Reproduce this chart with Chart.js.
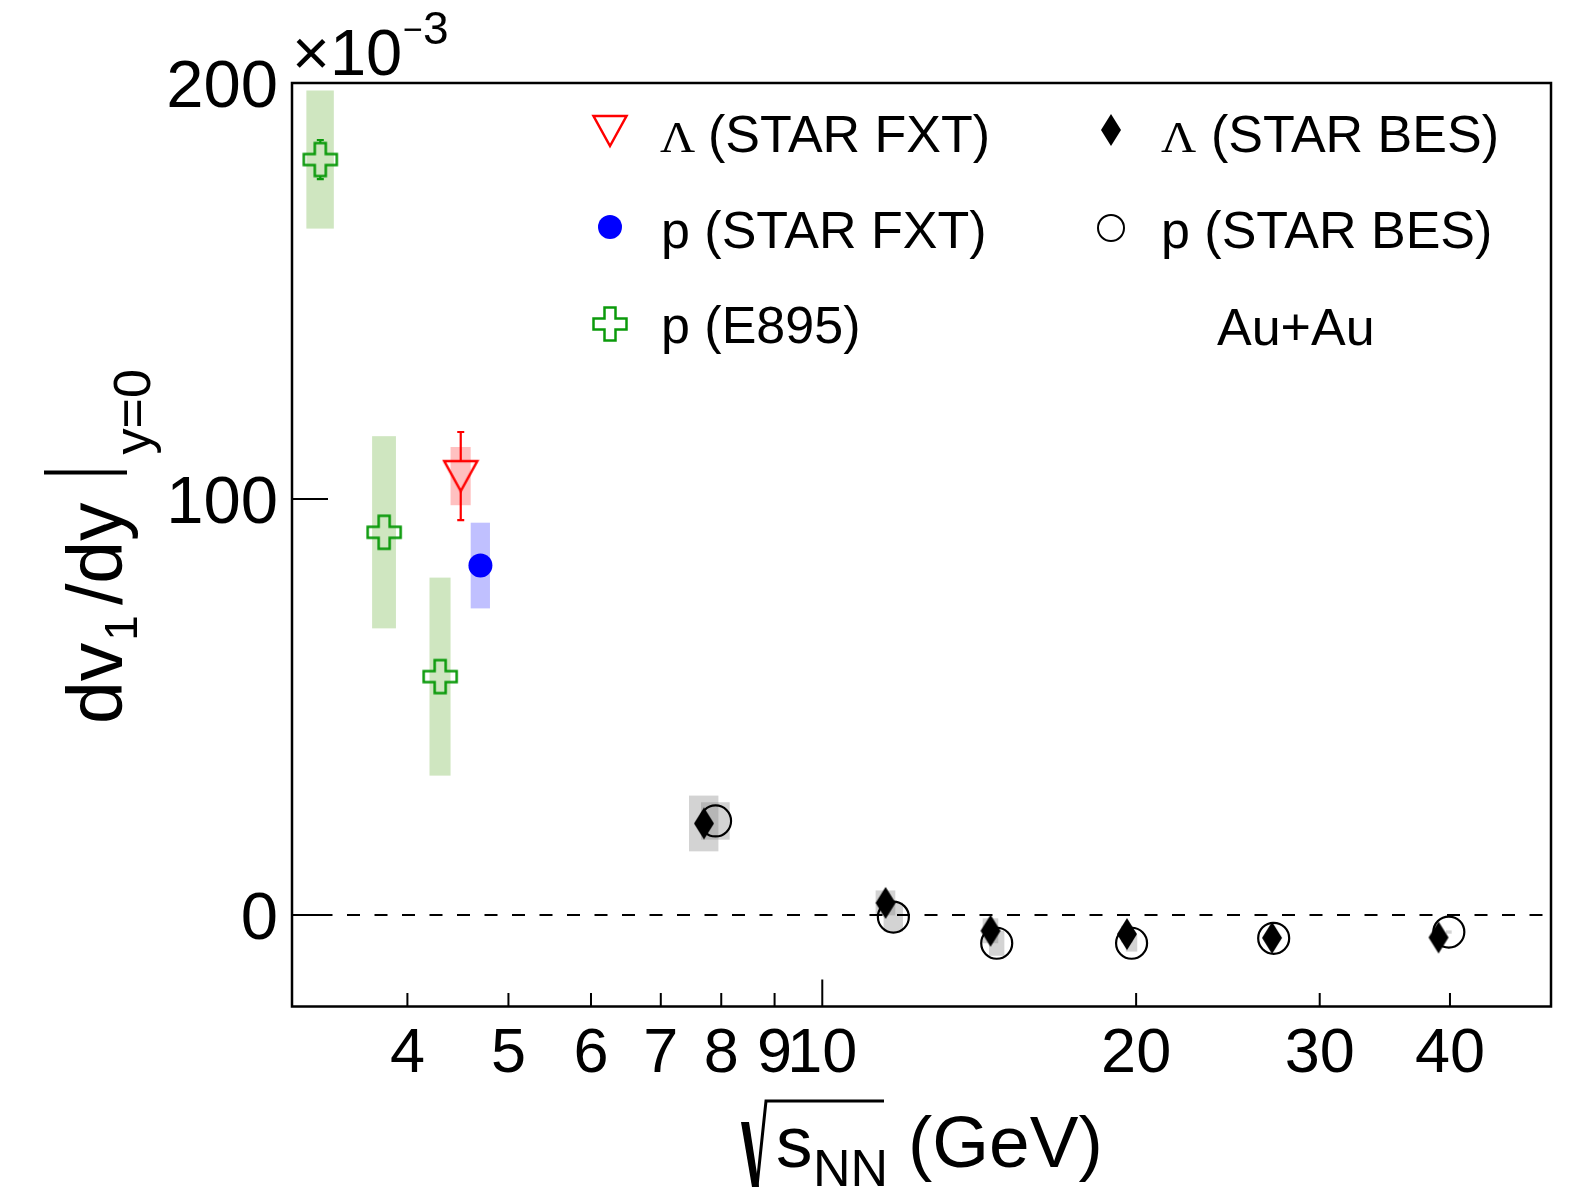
<!DOCTYPE html>
<html>
<head>
<meta charset="utf-8">
<script src="https://cdn.jsdelivr.net/npm/chart.js@4/dist/chart.umd.min.js"></script>
<style>
body { margin: 0; background: #fff; }
canvas { display: block; }
</style>
</head>
<body>
<canvas id="dv1-chart" width="1584" height="1194"></canvas>
<script>
// beam energy (GeV) and dv1/dy at y=0, in units of 1e-3
const e895Energy = [3.3, 3.8, 4.3];
const e895Slope = [181.6, 92.0, 57.3];
const e895Stat = [4.7, 2.0, 2.0];
const e895Sys = [16.6, 23.1, 23.8];

const fxtLambdaEnergy = [4.5];
const fxtLambdaSlope = [105.5];
const fxtLambdaStat = [10.6];
const fxtLambdaSys = [7.0];

const fxtProtonEnergy = [4.7];
const fxtProtonSlope = [84.0];
const fxtProtonStat = [1.5];
const fxtProtonSys = [10.3];

const besLambdaEnergy = [7.7, 11.5, 14.5, 19.6, 27, 39];
const besLambdaSlope = [22.0, 2.9, -3.8, -4.6, -5.5, -5.4];
const besLambdaSys = [6.7, 3.0, 3.0, 2.0, 0.6, 0.6];

const besProtonEnergy = [7.9, 11.7, 14.7, 19.8, 27.1, 39.9];
const besProtonSlope = [22.6, -0.5, -6.8, -6.8, -5.6, -4.1];
const besProtonSys = [4.5, 3.5, 3.0, 2.0, 0.5, 0.4];

const xTicks = [4, 5, 6, 7, 8, 9, 10, 20, 30, 40];
const xMajorTicks = [10];
const yTicks = [0, 100, 200];

// half width of the systematic boxes, in GeV
const boxHalfNarrow = 0.1;
const boxHalfWide = 0.25;

const green = "#0b9a0b";
const sans = "'Liberation Sans', Arial, Helvetica, sans-serif";
const serif = "'Liberation Serif', 'Times New Roman', serif";

function points(xs, ys)
{
	return xs.map(function (x, i) { return {x: x, y: ys[i]}; });
}

function markerCanvas(w, h, draw)
{
	let c = document.createElement("canvas");
	c.width = w;
	c.height = h;
	draw(c.getContext("2d"), w / 2, h / 2);
	return c;
}

const openCross = markerCanvas(38, 38, function (ctx, cx, cy)
{
	let a = 16.5, t = 5.5;
	ctx.strokeStyle = green;
	ctx.lineWidth = 2.5;
	ctx.beginPath();
	ctx.moveTo(cx - t, cy - a); ctx.lineTo(cx + t, cy - a); ctx.lineTo(cx + t, cy - t);
	ctx.lineTo(cx + a, cy - t); ctx.lineTo(cx + a, cy + t); ctx.lineTo(cx + t, cy + t);
	ctx.lineTo(cx + t, cy + a); ctx.lineTo(cx - t, cy + a); ctx.lineTo(cx - t, cy + t);
	ctx.lineTo(cx - a, cy + t); ctx.lineTo(cx - a, cy - t); ctx.lineTo(cx - t, cy - t);
	ctx.closePath();
	ctx.stroke();
});

const openTriangleDown = markerCanvas(38, 36, function (ctx, cx, cy)
{
	ctx.strokeStyle = "#ff0000";
	ctx.lineWidth = 2.5;
	ctx.beginPath();
	ctx.moveTo(cx - 16.5, cy - 15);
	ctx.lineTo(cx + 16.5, cy - 15);
	ctx.lineTo(cx, cy + 15);
	ctx.closePath();
	ctx.stroke();
});

const fullDiamond = markerCanvas(24, 36, function (ctx, cx, cy)
{
	ctx.fillStyle = "#000";
	ctx.beginPath();
	ctx.moveTo(cx, cy - 16);
	ctx.lineTo(cx + 10, cy);
	ctx.lineTo(cx, cy + 16);
	ctx.lineTo(cx - 10, cy);
	ctx.closePath();
	ctx.fill();
});

function drawBoxes(ctx, xs, ys, energy, slope, sys, half, color)
{
	ctx.fillStyle = color;
	energy.forEach(function (e, i)
	{
		let x0 = xs.getPixelForValue(e - half), x1 = xs.getPixelForValue(e + half);
		let y0 = ys.getPixelForValue(slope[i] + sys[i]), y1 = ys.getPixelForValue(slope[i] - sys[i]);
		ctx.fillRect(x0, y0, x1 - x0, y1 - y0);
	});
}

function drawErrors(ctx, xs, ys, energy, slope, stat, halfMarker, color)
{
	ctx.strokeStyle = color;
	ctx.lineWidth = 2.2;
	energy.forEach(function (e, i)
	{
		let px = xs.getPixelForValue(e), py = ys.getPixelForValue(slope[i]);
		let top = ys.getPixelForValue(slope[i] + stat[i]), bot = ys.getPixelForValue(slope[i] - stat[i]);
		if (py - top <= halfMarker) return;
		ctx.beginPath();
		ctx.moveTo(px, top); ctx.lineTo(px, py - halfMarker);
		ctx.moveTo(px, py + halfMarker); ctx.lineTo(px, bot);
		ctx.moveTo(px - 3.5, top); ctx.lineTo(px + 3.5, top);
		ctx.moveTo(px - 3.5, bot); ctx.lineTo(px + 3.5, bot);
		ctx.stroke();
	});
}

function lambdaLabel(ctx, x, y, rest, restX)
{
	ctx.save();
	ctx.font = "45px " + serif;
	ctx.translate(x, y);
	ctx.scale(1.08, 1);
	ctx.fillText("\u039B", 0, 0);
	ctx.restore();
	ctx.font = "52px " + sans;
	ctx.fillText(rest, restX, y);
}

const decorations = {
	id: "decorations",
	beforeDatasetsDraw(chart)
	{
		let ctx = chart.ctx, xs = chart.scales.x, ys = chart.scales.y, area = chart.chartArea;
		ctx.save();
		drawBoxes(ctx, xs, ys, e895Energy, e895Slope, e895Sys, boxHalfNarrow, "#cfe6c0");
		drawBoxes(ctx, xs, ys, fxtLambdaEnergy, fxtLambdaSlope, fxtLambdaSys, boxHalfNarrow, "#ffc0c0");
		drawBoxes(ctx, xs, ys, fxtProtonEnergy, fxtProtonSlope, fxtProtonSys, boxHalfNarrow, "#c0c0ff");
		drawBoxes(ctx, xs, ys, besLambdaEnergy, besLambdaSlope, besLambdaSys, boxHalfWide, "rgba(128,128,128,0.35)");
		drawBoxes(ctx, xs, ys, besProtonEnergy, besProtonSlope, besProtonSys, boxHalfWide, "rgba(128,128,128,0.35)");

		// zero line
		let y0 = ys.getPixelForValue(0);
		ctx.strokeStyle = "#000";
		ctx.lineWidth = 2;
		ctx.setLineDash([13, 14.5]);
		ctx.beginPath();
		ctx.moveTo(area.left, y0);
		ctx.lineTo(area.right, y0);
		ctx.stroke();
		ctx.setLineDash([]);

		drawErrors(ctx, xs, ys, e895Energy, e895Slope, e895Stat, 16.5, green);
		drawErrors(ctx, xs, ys, fxtLambdaEnergy, fxtLambdaSlope, fxtLambdaStat, 15, "#ff0000");
		drawErrors(ctx, xs, ys, fxtProtonEnergy, fxtProtonSlope, fxtProtonStat, 12, "#0000ff");
		ctx.restore();
	},
	afterDraw(chart)
	{
		let ctx = chart.ctx, xs = chart.scales.x, ys = chart.scales.y, area = chart.chartArea;
		ctx.save();
		ctx.strokeStyle = "#000";
		ctx.fillStyle = "#000";

		// frame and ticks
		ctx.lineWidth = 2.5;
		ctx.strokeRect(area.left, area.top, area.right - area.left, area.bottom - area.top);
		ctx.lineWidth = 2;
		ctx.beginPath();
		yTicks.forEach(function (v)
		{
			let py = ys.getPixelForValue(v);
			ctx.moveTo(area.left, py);
			ctx.lineTo(area.left + 36, py);
		});
		xTicks.forEach(function (v)
		{
			let px = xs.getPixelForValue(v);
			let len = xMajorTicks.includes(v) ? 27 : 13.5;
			ctx.moveTo(px, area.bottom);
			ctx.lineTo(px, area.bottom - len);
		});
		ctx.stroke();

		// tick labels
		ctx.font = "67px " + sans;
		ctx.textAlign = "right";
		yTicks.forEach(function (v)
		{
			ctx.fillText(String(v), area.left - 14, ys.getPixelForValue(v) + 24);
		});
		ctx.font = "63px " + sans;
		ctx.textAlign = "center";
		xTicks.forEach(function (v)
		{
			ctx.fillText(String(v), xs.getPixelForValue(v), area.bottom + 65);
		});

		// exponent
		ctx.textAlign = "left";
		ctx.font = "65px " + sans;
		ctx.fillText("\u00D710", area.left, 75);
		ctx.font = "34px " + sans;
		ctx.fillText("\u2212", 403, 41);
		ctx.font = "46px " + sans;
		ctx.fillText("3", 423, 44);

		// x title
		ctx.font = "73px " + sans;
		ctx.fillText("s", 776, 1167);
		ctx.font = "52px " + sans;
		ctx.fillText("NN", 813, 1186);
		ctx.font = "73px " + sans;
		ctx.fillText("(GeV)", 908, 1167);
		// radical sign: heavy left arm, thin right arm, overline
		ctx.beginPath();
		ctx.moveTo(741, 1122);
		ctx.lineTo(749, 1122);
		ctx.lineTo(759, 1187);
		ctx.lineTo(752, 1187);
		ctx.closePath();
		ctx.fill();
		ctx.lineWidth = 3;
		ctx.beginPath();
		ctx.moveTo(757, 1186);
		ctx.lineTo(766, 1101);
		ctx.lineTo(884, 1101);
		ctx.stroke();

		// y title
		ctx.save();
		ctx.translate(122, 724);
		ctx.rotate(-Math.PI / 2);
		ctx.font = "77px " + sans;
		ctx.fillText("dv", 0, 0);
		let u = ctx.measureText("dv").width + 2;
		ctx.font = "46px " + sans;
		ctx.fillText("1", u, 15);
		u += ctx.measureText("1").width + 10;
		ctx.font = "77px " + sans;
		ctx.fillText("/dy", u, 0);
		u += ctx.measureText("/dy").width + 30;
		ctx.lineWidth = 4;
		ctx.beginPath();
		ctx.moveTo(u, -78);
		ctx.lineTo(u, 5);
		ctx.stroke();
		ctx.font = "52px " + sans;
		ctx.fillText("y=0", u + 18, 28);
		ctx.restore();

		// legend
		ctx.drawImage(openTriangleDown, 610 - 19, 131 - 18);
		lambdaLabel(ctx, 660, 152, "(STAR FXT)", 708);
		ctx.fillStyle = "#0000ff";
		ctx.beginPath();
		ctx.arc(610, 227, 12, 0, Math.PI * 2);
		ctx.fill();
		ctx.fillStyle = "#000";
		ctx.font = "52px " + sans;
		ctx.fillText("p (STAR FXT)", 661, 247.5);
		ctx.drawImage(openCross, 610 - 19, 324 - 19);
		ctx.fillText("p (E895)", 661, 343);

		ctx.drawImage(fullDiamond, 1111 - 12, 130 - 18);
		lambdaLabel(ctx, 1161, 152, "(STAR BES)", 1211);
		ctx.lineWidth = 2;
		ctx.beginPath();
		ctx.arc(1111, 228, 13, 0, Math.PI * 2);
		ctx.stroke();
		ctx.font = "52px " + sans;
		ctx.fillText("p (STAR BES)", 1161, 247.5);
		ctx.fillText("Au+Au", 1217, 345);
		ctx.restore();
	}
};

const chart = new Chart(document.getElementById("dv1-chart"), {
	type: "scatter",
	data: {
		datasets: [
			{label: "p (E895)", data: points(e895Energy, e895Slope), pointStyle: openCross, pointRadius: 16, order: 3},
			{label: "Lambda (STAR FXT)", data: points(fxtLambdaEnergy, fxtLambdaSlope), pointStyle: openTriangleDown, pointRadius: 16, order: 2},
			{
				label: "p (STAR FXT)", data: points(fxtProtonEnergy, fxtProtonSlope), pointStyle: "circle", pointRadius: 12,
				backgroundColor: "#0000ff", borderWidth: 0, order: 1
			},
			{
				label: "p (STAR BES)", data: points(besProtonEnergy, besProtonSlope), pointStyle: "circle", pointRadius: 15.5,
				backgroundColor: "rgba(0,0,0,0)", borderColor: "#000", borderWidth: 2.2, order: 5
			},
			{label: "Lambda (STAR BES)", data: points(besLambdaEnergy, besLambdaSlope), pointStyle: fullDiamond, pointRadius: 16, order: 4}
		]
	},
	options: {
		responsive: false,
		animation: false,
		devicePixelRatio: 1,
		events: [],
		layout: {padding: {left: 292, top: 83, right: 33, bottom: 187.5}},
		scales: {
			x: {type: "logarithmic", min: 3.1, max: 50, display: false},
			y: {type: "linear", min: -22, max: 200, display: false}
		},
		plugins: {legend: {display: false}, tooltip: {enabled: false}}
	},
	plugins: [decorations]
});
</script>
</body>
</html>
